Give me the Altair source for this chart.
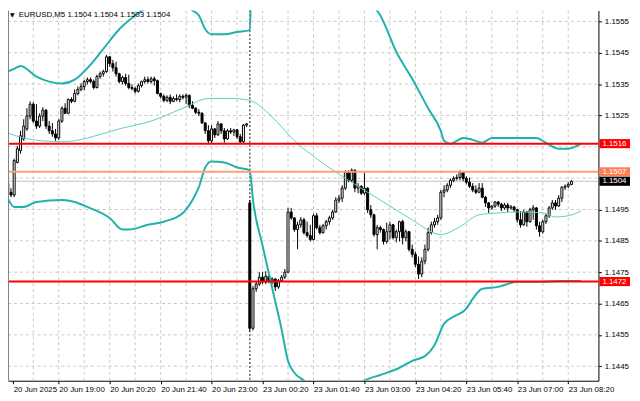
import altair as alt
import pandas as pd

# ---------------- data ----------------
opens = [1.15034, 1.15005, 1.14996, 1.15100, 1.15138, 1.15175, 1.15207, 1.15248, 1.15286, 1.15232,
         1.15216, 1.15248, 1.15267, 1.15216, 1.15201, 1.15191, 1.15178, 1.15232, 1.15273, 1.15257,
         1.15301, 1.15295, 1.15320, 1.15333, 1.15342, 1.15358, 1.15364, 1.15358, 1.15339, 1.15374,
         1.15383, 1.15390, 1.15437, 1.15415, 1.15402, 1.15383, 1.15358, 1.15371, 1.15352, 1.15339,
         1.15336, 1.15327, 1.15345, 1.15358, 1.15364, 1.15358, 1.15367, 1.15361, 1.15320, 1.15311,
         1.15298, 1.15308, 1.15295, 1.15304, 1.15301, 1.15311, 1.15308, 1.15314, 1.15282, 1.15273,
         1.15260, 1.15257, 1.15226, 1.15201, 1.15169, 1.15207, 1.15188, 1.15223, 1.15201, 1.15175,
         1.15201, 1.15197, 1.15204, 1.15182, 1.15166, 1.15219,
         1.14971, 1.14571, 1.14697, 1.14712, 1.14734, 1.14719, 1.14737, 1.14722, 1.14728, 1.14703,
         1.14722, 1.14734, 1.14750, 1.14942, 1.14923, 1.14886, 1.14901, 1.14917, 1.14876, 1.14867,
         1.14854, 1.14930, 1.14892, 1.14876, 1.14898, 1.14911, 1.14923, 1.14942, 1.14980, 1.14986,
         1.15018, 1.15068, 1.15043, 1.15075, 1.15018, 1.15024, 1.15002, 1.15018, 1.14949, 1.14933,
         1.14870, 1.14892, 1.14886, 1.14848, 1.14879, 1.14901, 1.14860, 1.14879, 1.14911, 1.14860,
         1.14879, 1.14823, 1.14807, 1.14775, 1.14744, 1.14785, 1.14823, 1.14876, 1.14901, 1.14911,
         1.14923, 1.15005, 1.15012, 1.15027, 1.15043, 1.15049, 1.15052, 1.15068, 1.15049, 1.15037,
         1.15024, 1.15012, 1.15005, 1.15018, 1.14989, 1.14971, 1.14955, 1.14961, 1.14974, 1.14967,
         1.14955, 1.14964, 1.14955, 1.14958, 1.14949, 1.14917, 1.14901, 1.14942, 1.14911, 1.14949,
         1.14955, 1.14898, 1.14879, 1.14911, 1.14930, 1.14955, 1.14971, 1.14961, 1.14986, 1.15021,
         1.15024, 1.15030]
highs = [1.15040, 1.15018, 1.15112, 1.15153, 1.15201, 1.15238, 1.15273, 1.15295, 1.15292, 1.15286,
         1.15257, 1.15276, 1.15270, 1.15232, 1.15226, 1.15207, 1.15238, 1.15279, 1.15289, 1.15304,
         1.15308, 1.15333, 1.15342, 1.15352, 1.15364, 1.15371, 1.15371, 1.15364, 1.15380, 1.15390,
         1.15396, 1.15443, 1.15440, 1.15427, 1.15421, 1.15386, 1.15377, 1.15383, 1.15380, 1.15349,
         1.15342, 1.15352, 1.15361, 1.15374, 1.15374, 1.15374, 1.15374, 1.15364, 1.15323, 1.15317,
         1.15314, 1.15317, 1.15311, 1.15317, 1.15317, 1.15317, 1.15320, 1.15317, 1.15295, 1.15276,
         1.15270, 1.15260, 1.15229, 1.15219, 1.15219, 1.15210, 1.15232, 1.15226, 1.15210, 1.15207,
         1.15210, 1.15207, 1.15207, 1.15191, 1.15223, 1.15226,
         1.14980, 1.14706, 1.14719, 1.14750, 1.14750, 1.14753, 1.14744, 1.14734, 1.14731, 1.14728,
         1.14741, 1.14760, 1.14955, 1.14955, 1.14926, 1.14911, 1.14926, 1.14923, 1.14911, 1.14901,
         1.14936, 1.14939, 1.14901, 1.14904, 1.14917, 1.14930, 1.14949, 1.14989, 1.14996, 1.15027,
         1.15075, 1.15075, 1.15081, 1.15078, 1.15034, 1.15027, 1.15068, 1.15021, 1.14964, 1.14936,
         1.14901, 1.14898, 1.14889, 1.14908, 1.14911, 1.14904, 1.14886, 1.14914, 1.14917, 1.14886,
         1.14882, 1.14838, 1.14816, 1.14800, 1.14797, 1.14838, 1.14892, 1.14911, 1.14923, 1.14933,
         1.15012, 1.15027, 1.15034, 1.15049, 1.15056, 1.15062, 1.15075, 1.15071, 1.15056, 1.15052,
         1.15034, 1.15027, 1.15034, 1.15034, 1.14993, 1.14974, 1.14964, 1.14977, 1.14977, 1.14971,
         1.14971, 1.14971, 1.14964, 1.14961, 1.14952, 1.14945, 1.14949, 1.14945, 1.14955, 1.14964,
         1.14958, 1.14911, 1.14917, 1.14936, 1.14961, 1.14980, 1.14980, 1.14996, 1.15024, 1.15030,
         1.15037, 1.15043]
lows = [1.14996, 1.14989, 1.14989, 1.15097, 1.15128, 1.15169, 1.15201, 1.15238, 1.15226, 1.15207,
        1.15210, 1.15232, 1.15207, 1.15191, 1.15182, 1.15169, 1.15172, 1.15226, 1.15254, 1.15254,
        1.15289, 1.15292, 1.15314, 1.15327, 1.15330, 1.15349, 1.15352, 1.15333, 1.15336, 1.15367,
        1.15374, 1.15386, 1.15405, 1.15390, 1.15374, 1.15352, 1.15349, 1.15345, 1.15333, 1.15330,
        1.15320, 1.15323, 1.15339, 1.15352, 1.15352, 1.15352, 1.15345, 1.15317, 1.15304, 1.15292,
        1.15292, 1.15286, 1.15292, 1.15295, 1.15292, 1.15301, 1.15286, 1.15273, 1.15270, 1.15254,
        1.15248, 1.15223, 1.15191, 1.15160, 1.15160, 1.15178, 1.15185, 1.15191, 1.15163, 1.15172,
        1.15191, 1.15185, 1.15175, 1.15160, 1.15160, 1.15213,
        1.14561, 1.14564, 1.14687, 1.14706, 1.14712, 1.14712, 1.14715, 1.14712, 1.14690, 1.14697,
        1.14719, 1.14728, 1.14747, 1.14917, 1.14879, 1.14823, 1.14892, 1.14870, 1.14860, 1.14848,
        1.14851, 1.14886, 1.14870, 1.14873, 1.14886, 1.14901, 1.14917, 1.14939, 1.14971, 1.14974,
        1.15012, 1.15037, 1.15037, 1.15005, 1.15002, 1.14996, 1.14996, 1.14939, 1.14923, 1.14863,
        1.14823, 1.14876, 1.14838, 1.14841, 1.14854, 1.14854, 1.14845, 1.14848, 1.14838, 1.14848,
        1.14816, 1.14797, 1.14766, 1.14728, 1.14734, 1.14775, 1.14816, 1.14870, 1.14892, 1.14901,
        1.14917, 1.14989, 1.15005, 1.15018, 1.15037, 1.15043, 1.15043, 1.15040, 1.15030, 1.15018,
        1.15005, 1.14999, 1.15002, 1.14986, 1.14958, 1.14939, 1.14949, 1.14955, 1.14958, 1.14945,
        1.14949, 1.14942, 1.14949, 1.14942, 1.14908, 1.14892, 1.14898, 1.14895, 1.14908, 1.14917,
        1.14886, 1.14863, 1.14873, 1.14904, 1.14923, 1.14949, 1.14949, 1.14958, 1.14974, 1.15012,
        1.15018, 1.15027]
closes = [1.15005, 1.14996, 1.15106, 1.15144, 1.15185, 1.15216, 1.15248, 1.15286, 1.15232, 1.15216,
          1.15248, 1.15267, 1.15216, 1.15201, 1.15191, 1.15178, 1.15232, 1.15273, 1.15257, 1.15301,
          1.15295, 1.15320, 1.15333, 1.15342, 1.15358, 1.15364, 1.15358, 1.15339, 1.15374, 1.15383,
          1.15390, 1.15437, 1.15415, 1.15402, 1.15383, 1.15358, 1.15371, 1.15352, 1.15339, 1.15336,
          1.15327, 1.15345, 1.15358, 1.15364, 1.15358, 1.15367, 1.15361, 1.15320, 1.15311, 1.15298,
          1.15308, 1.15295, 1.15304, 1.15301, 1.15311, 1.15308, 1.15314, 1.15282, 1.15273, 1.15260,
          1.15257, 1.15226, 1.15201, 1.15169, 1.15207, 1.15188, 1.15223, 1.15201, 1.15175, 1.15201,
          1.15197, 1.15204, 1.15182, 1.15166, 1.15219, 1.15223,
          1.14571, 1.14697, 1.14712, 1.14734, 1.14719, 1.14737, 1.14722, 1.14728, 1.14703, 1.14722,
          1.14734, 1.14750, 1.14942, 1.14923, 1.14886, 1.14901, 1.14917, 1.14876, 1.14867, 1.14854,
          1.14930, 1.14892, 1.14876, 1.14898, 1.14911, 1.14923, 1.14942, 1.14980, 1.14986, 1.15018,
          1.15068, 1.15043, 1.15075, 1.15018, 1.15024, 1.15002, 1.15018, 1.14949, 1.14933, 1.14870,
          1.14892, 1.14886, 1.14848, 1.14879, 1.14901, 1.14860, 1.14879, 1.14911, 1.14860, 1.14879,
          1.14823, 1.14807, 1.14775, 1.14744, 1.14785, 1.14823, 1.14876, 1.14901, 1.14911, 1.14923,
          1.15005, 1.15012, 1.15027, 1.15043, 1.15049, 1.15052, 1.15068, 1.15049, 1.15037, 1.15024,
          1.15012, 1.15005, 1.15018, 1.14989, 1.14971, 1.14955, 1.14961, 1.14974, 1.14967, 1.14955,
          1.14964, 1.14955, 1.14958, 1.14949, 1.14917, 1.14901, 1.14942, 1.14911, 1.14949, 1.14955,
          1.14898, 1.14879, 1.14911, 1.14930, 1.14955, 1.14971, 1.14961, 1.14986, 1.15021, 1.15024,
          1.15030, 1.15040]

# Bollinger bands (bar index, price)
upper_idx = [0, 2, 4, 9, 13, 17, 21, 26, 30, 35, 40, 45, 47, 51, 54, 56, 58, 60, 62, 64, 68, 72, 76,
             77, 85, 95, 105, 112, 114, 117, 122, 127, 132, 136, 137, 139, 143, 146, 149, 152, 166,
             169, 173, 176, 180]
upper_val = [1.15390, 1.15399, 1.15408, 1.15374, 1.15358, 1.15352, 1.15364, 1.15412, 1.15462, 1.15525,
             1.15569, 1.15601, 1.15610, 1.15626, 1.15619, 1.15604, 1.15585, 1.15569, 1.15525, 1.15509,
             1.15509, 1.15516, 1.15522, 1.15860, 1.15880, 1.15850, 1.15750, 1.15640, 1.15610, 1.15569,
             1.15453, 1.15367, 1.15273, 1.15200, 1.15169, 1.15160, 1.15178, 1.15172, 1.15163, 1.15178,
             1.15178, 1.15163, 1.15144, 1.15144, 1.15160]
lower_idx = [0, 2, 5, 9, 17, 21, 25, 32, 36, 38, 44, 49, 55, 58, 60, 62, 64, 68, 72, 76, 77, 80, 83,
             86, 88, 90, 93, 97, 103, 109, 112, 117, 123, 127, 131, 134, 137, 140, 144, 146, 149, 154,
             160, 166, 174, 180]
lower_val = [1.14986, 1.14958, 1.14958, 1.14974, 1.14980, 1.14974, 1.14958, 1.14923, 1.14886, 1.14886,
             1.14901, 1.14911, 1.14939, 1.14980, 1.15021, 1.15084, 1.15103, 1.15100, 1.15084, 1.15075,
             1.14980, 1.14835, 1.14700, 1.14567, 1.14467, 1.14429, 1.14404, 1.14370, 1.14355, 1.14380,
             1.14404, 1.14422, 1.14445, 1.14467, 1.14482, 1.14517, 1.14586, 1.14608, 1.14634, 1.14665,
             1.14697, 1.14703, 1.14719, 1.14719, 1.14722, 1.14722]
middle_idx = [0, 5, 11, 17, 21, 25, 35, 45, 55, 63, 70, 76, 81, 91, 97, 107, 117, 123, 127, 136, 142,
              148, 154, 160, 168, 172, 176, 180]
middle_val = [1.15194, 1.15178, 1.15169, 1.15166, 1.15169, 1.15178, 1.15207, 1.15232, 1.15273, 1.15304,
              1.15304, 1.15298, 1.15264, 1.15160, 1.15112, 1.15043, 1.14980, 1.14942, 1.14917, 1.14870,
              1.14895, 1.14933, 1.14939, 1.14942, 1.14939, 1.14926, 1.14930, 1.14945]

# horizontal levels and price tags
level_prices = [1.1516, 1.1507, 1.1472]
level_colors = ["#FF0000", "#FFA07A", "#FF0000"]
tag_prices = [1.1516, 1.1507, 1.1504, 1.1472]
tag_texts = ["1.1516", "1.1507", "1.1504", "1.1472"]
tag_colors = ["#FF0000", "#FF7F50", "#000000", "#FF0000"]
bid_price = 1.1504

# axis ticks (1.1505 and 1.1515 are hidden under the price tags in the reference)
grid_prices = [1.1445, 1.1455, 1.1465, 1.1475, 1.1485, 1.1495, 1.1505, 1.1515, 1.1525, 1.1535,
               1.1545, 1.1555]
y_ticks = [1.1445, 1.1455, 1.1465, 1.1475, 1.1485, 1.1495, 1.1525, 1.1535, 1.1545, 1.1555]
x_ticks = [1.7, 16, 32, 48, 64, 80, 96, 112, 128, 144, 160, 176]
x_labels = ["20 Jun 2025", "20 Jun 19:00", "20 Jun 20:20", "20 Jun 21:40", "20 Jun 23:00",
            "23 Jun 00:20", "23 Jun 01:40", "23 Jun 03:00", "23 Jun 04:20", "23 Jun 05:40",
            "23 Jun 07:00", "23 Jun 08:20"]
v_grid = list(range(8, 184, 8))
day_separator = 76
title_text = "EURUSD,M5  1.1504 1.1504 1.1503 1.1504"

# ---------------- chart ----------------
W, H = 598, 375
FONT = "Liberation Sans"
FS = 8

bars = pd.DataFrame({"i": list(range(len(closes))), "open": opens, "high": highs,
                     "low": lows, "close": closes})

xs = alt.Scale(domain=[1.616, 183.93], nice=False, zero=False)
ys = alt.Scale(domain=[1.144036, 1.155848], nice=False, zero=False)

label_list = "[" + ",".join("'%s'" % s for s in x_labels) + "]"
xaxis = alt.Axis(values=x_ticks, labelExpr=label_list + "[round(datum.value/16)]", title=None,
                 grid=False, orient="bottom", tickSize=3, tickColor="black", domainColor="black",
                 labelAlign="left", labelBaseline="top", labelPadding=2, labelFont=FONT,
                 labelFontSize=FS, labelColor="black", labelOverlap=False, labelFlush=False,
                 labelBound=False)
yaxis = alt.Axis(values=y_ticks, format=".4f", title=None, grid=False, orient="right", tickSize=3,
                 tickColor="black", domainColor="black", labelAlign="left", labelPadding=3,
                 labelFont=FONT, labelFontSize=FS, labelColor="black", labelOverlap=False,
                 labelFlush=False, labelBound=False)


def X(f):
    return alt.X(f + ":Q", scale=xs, axis=xaxis)


def Y(f):
    return alt.Y(f + ":Q", scale=ys, axis=yaxis)


hgrid = alt.Chart(pd.DataFrame({"price": grid_prices})).mark_rule(
    color="#c8c8c8", strokeDash=[3, 3], strokeWidth=1).encode(
    y=Y("price"), x=alt.value(0), x2=alt.value(W))
vgrid = alt.Chart(pd.DataFrame({"i": v_grid})).mark_rule(
    color="#c8c8c8", strokeDash=[3, 3], strokeWidth=1, clip=True).encode(
    x=X("i"), y=alt.value(0), y2=alt.value(H))
sep = alt.Chart(pd.DataFrame({"i": [day_separator]})).mark_rule(
    color="#606060", strokeDash=[2, 2], strokeWidth=1.5).encode(
    x=X("i"), y=alt.value(0), y2=alt.value(H))
bid = alt.Chart(pd.DataFrame({"price": [bid_price]})).mark_rule(
    color="#c0c0c0", strokeWidth=1).encode(y=Y("price"), x=alt.value(0), x2=alt.value(W))

wicks = alt.Chart(bars).mark_rule(color="black", strokeWidth=1, clip=True).encode(
    x=X("i"), y=Y("low"), y2=alt.Y2("high:Q"))
bodies = alt.Chart(bars).mark_bar(size=2, stroke="black", strokeWidth=1, clip=True).encode(
    x=X("i"), y=Y("open"), y2=alt.Y2("close:Q"),
    fill=alt.condition(alt.datum.close >= alt.datum.open, alt.value("white"), alt.value("black")))

mid = alt.Chart(pd.DataFrame({"i": middle_idx, "v": middle_val})).mark_line(
    color="#5fcdc4", strokeWidth=1, clip=True, interpolate="monotone").encode(x=X("i"), y=Y("v"))
up = alt.Chart(pd.DataFrame({"i": upper_idx, "v": upper_val})).mark_line(
    color="#20B2AA", strokeWidth=2, clip=True, interpolate="monotone").encode(x=X("i"), y=Y("v"))
lo = alt.Chart(pd.DataFrame({"i": lower_idx, "v": lower_val})).mark_line(
    color="#20B2AA", strokeWidth=2, clip=True, interpolate="monotone").encode(x=X("i"), y=Y("v"))

levels = alt.Chart(pd.DataFrame({"price": level_prices, "c": level_colors})).mark_rule(
    strokeWidth=2).encode(y=Y("price"), x=alt.value(0), x2=alt.value(W),
                          color=alt.Color("c:N", scale=None))

tags_df = pd.DataFrame({"price": tag_prices, "t": tag_texts, "c": tag_colors})
tag_boxes = alt.Chart(tags_df).transform_calculate(
    top="datum.price + 0.000145", bot="datum.price - 0.000145").mark_rect().encode(
    x=alt.value(W + 1), x2=alt.value(W + 32), y=Y("top"), y2=alt.Y2("bot:Q"),
    color=alt.Color("c:N", scale=None))
tag_text = alt.Chart(tags_df).mark_text(align="left", baseline="middle", font=FONT, fontSize=FS,
                                        color="white").encode(
    x=alt.value(W + 4), y=Y("price"), text="t:N")

border = alt.Chart(pd.DataFrame({"i": [0]})).mark_rule(color="#808080", strokeWidth=1).encode(
    x=alt.value(0.5), y=alt.value(0), y2=alt.value(H))

tri = alt.Chart(pd.DataFrame({"t": ["\u25bc"]})).mark_text(
    align="left", baseline="middle", font="DejaVu Sans", fontSize=6, color="black").encode(
    x=alt.value(2), y=alt.value(5), text="t:N")
title = alt.Chart(pd.DataFrame({"t": [title_text]})).mark_text(
    align="left", baseline="middle", font=FONT, fontSize=FS, color="black").encode(
    x=alt.value(11), y=alt.value(5), text="t:N")

chart = alt.layer(hgrid, vgrid, sep, bid, wicks, bodies, mid, up, lo, levels,
                  tag_boxes, tag_text, border, tri, title).properties(
    width=W, height=H,
    autosize=alt.AutoSizeParams(type="none"),
    padding={"left": 0, "top": 0, "right": 34, "bottom": 18},
    background="white",
).configure_view(stroke=None)

chart.save("out.html", embed_options={"renderer": "svg", "actions": False})
